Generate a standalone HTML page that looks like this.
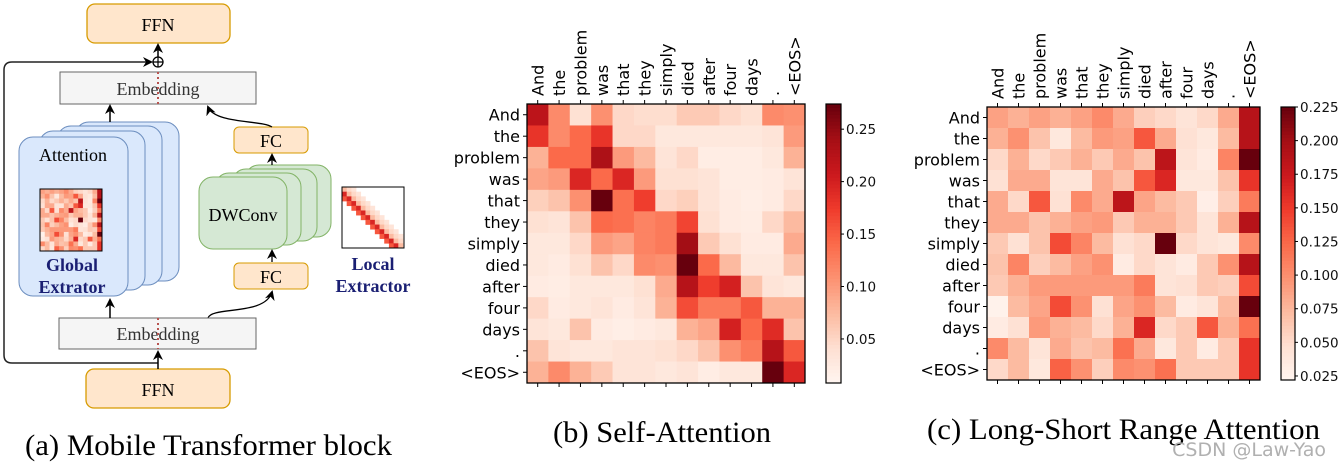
<!DOCTYPE html>
<html><head><meta charset="utf-8"><style>
html,body{margin:0;padding:0;background:#fff;}
svg{display:block;}
.serif{font-family:"Liberation Serif",serif;}
.dv{font-family:"DejaVu Sans","Liberation Sans",sans-serif;}
</style></head><body>
<svg id="root" width="1341" height="467" viewBox="0 0 1341 467" xmlns="http://www.w3.org/2000/svg">
<defs>
<marker id="arr" markerWidth="10" markerHeight="10" refX="8" refY="5" orient="auto" markerUnits="userSpaceOnUse">
<path d="M0,0 L10,5 L0,10 L3,5 Z" fill="#000"/></marker>
</defs>
<g id="panelA">
<path d="M158,363 L12,363 Q4,363 4,355 L4,70 Q4,62 12,62 L151,62" fill="none" stroke="#222" stroke-width="1.5" marker-end="url(#arr)"/>
<rect x="87" y="4" width="143" height="39" rx="8" fill="#ffe6cc" stroke="#d79b00" stroke-width="1.3"/>
<text x="158" y="31" text-anchor="middle" class="serif" font-size="18">FFN</text>
<circle cx="158" cy="62" r="5" fill="#fff" stroke="#000" stroke-width="1.3"/>
<path d="M153,62 H163 M158,57 V67" stroke="#000" stroke-width="1.2"/>
<line x1="158" y1="57" x2="158" y2="45" stroke="#000" stroke-width="1.5" marker-end="url(#arr)"/>
<rect x="60" y="72" width="196" height="32" fill="#f5f5f5" stroke="#666"/>
<text x="158" y="95" text-anchor="middle" class="serif" font-size="18" fill="#333">Embedding</text>
<line x1="158" y1="72" x2="158" y2="104" stroke="#b85450" stroke-width="2" stroke-dasharray="2,3"/>
<g>
<rect x="75" y="122" width="104" height="159" rx="14" fill="#dae8fc" stroke="#6c8ebf"/>
<rect x="57" y="126" width="105" height="159" rx="14" fill="#dae8fc" stroke="#6c8ebf"/>
<rect x="39" y="131" width="106" height="159" rx="14" fill="#dae8fc" stroke="#6c8ebf"/>
<rect x="19" y="137" width="109" height="159" rx="14" fill="#dae8fc" stroke="#6c8ebf"/>
</g>
<text x="73" y="161" text-anchor="middle" class="serif" font-size="18">Attention</text>
<g id="miniGlobal"></g>
<text x="72" y="271" text-anchor="middle" class="serif" font-size="18" font-weight="bold" fill="#1a1f73">Global</text>
<text x="72" y="293" text-anchor="middle" class="serif" font-size="18" font-weight="bold" fill="#1a1f73">Extrator</text>
<line x1="110" y1="122" x2="110" y2="106" stroke="#000" stroke-width="1.5" marker-end="url(#arr)"/>
<g>
<rect x="245" y="165" width="86" height="72" rx="14" fill="#d5e8d4" stroke="#82b366"/>
<rect x="232" y="169" width="85" height="72" rx="14" fill="#d5e8d4" stroke="#82b366"/>
<rect x="215" y="173" width="86" height="72" rx="14" fill="#d5e8d4" stroke="#82b366"/>
<rect x="199" y="177" width="88" height="72" rx="14" fill="#d5e8d4" stroke="#82b366"/>
</g>
<text x="243" y="221" text-anchor="middle" class="serif" font-size="18">DWConv</text>
<rect x="234" y="127" width="74" height="26" rx="5" fill="#ffe6cc" stroke="#d79b00"/>
<text x="271" y="147" text-anchor="middle" class="serif" font-size="18">FC</text>
<rect x="234" y="263" width="74" height="26" rx="5" fill="#ffe6cc" stroke="#d79b00"/>
<text x="271" y="283" text-anchor="middle" class="serif" font-size="18">FC</text>
<path d="M272,127 C262,120 215,124 208,107" fill="none" stroke="#000" stroke-width="1.3" marker-end="url(#arr)"/>
<line x1="272" y1="165" x2="272" y2="155" stroke="#000" stroke-width="1.3" marker-end="url(#arr)"/>
<line x1="272" y1="262" x2="272" y2="251" stroke="#000" stroke-width="1.3" marker-end="url(#arr)"/>
<path d="M208,318 C212,306 265,316 272,292" fill="none" stroke="#000" stroke-width="1.3" marker-end="url(#arr)"/>
<rect x="59" y="318" width="197" height="31" fill="#f5f5f5" stroke="#666"/>
<text x="158" y="340" text-anchor="middle" class="serif" font-size="18" fill="#333">Embedding</text>
<line x1="158" y1="318" x2="158" y2="349" stroke="#b85450" stroke-width="2" stroke-dasharray="2,3"/>
<line x1="110" y1="318" x2="110" y2="300" stroke="#000" stroke-width="1.5" marker-end="url(#arr)"/>
<rect x="86" y="369" width="144" height="39" rx="8" fill="#ffe6cc" stroke="#d79b00" stroke-width="1.3"/>
<text x="158" y="396" text-anchor="middle" class="serif" font-size="18">FFN</text>
<line x1="158" y1="369" x2="158" y2="352" stroke="#000" stroke-width="1.5" marker-end="url(#arr)"/>
<g id="miniLocal"></g>
<rect x="342" y="187" width="62" height="61" fill="none" stroke="#000" stroke-width="1"/>
<text x="373" y="270" text-anchor="middle" class="serif" font-size="18" font-weight="bold" fill="#1a1f73">Local</text>
<text x="373" y="292" text-anchor="middle" class="serif" font-size="18" font-weight="bold" fill="#1a1f73">Extractor</text>
<text x="25" y="455" textLength="367" lengthAdjust="spacingAndGlyphs" class="serif" font-size="30">(a) Mobile Transformer block</text>
</g>
<g id="panelB"></g>
<g id="panelC"></g>
<text x="553" y="442" textLength="218" lengthAdjust="spacingAndGlyphs" class="serif" font-size="30">(b) Self-Attention</text>
<text x="927" y="439" textLength="393" lengthAdjust="spacingAndGlyphs" class="serif" font-size="30">(c) Long-Short Range Attention</text>
<text x="1326" y="456" text-anchor="end" class="dv" font-size="19" fill="#b0b0b0">CSDN @Law-Yao</text>
</svg>
<script>
const tokens = ["And","the","problem","was","that","they","simply","died","after","four","days",".","<EOS>"];
const weightsB = [
[.221,.114,.040,.109,.048,.043,.043,.061,.061,.048,.040,.114,.109],
[.181,.114,.141,.181,.048,.048,.029,.029,.029,.029,.029,.035,.101],
[.082,.141,.141,.234,.101,.075,.035,.048,.021,.021,.021,.029,.082],
[.093,.101,.194,.141,.194,.101,.040,.040,.035,.021,.021,.024,.035],
[.056,.067,.109,.274,.136,.173,.048,.056,.035,.024,.019,.024,.048],
[.040,.035,.067,.141,.136,.120,.128,.168,.040,.024,.021,.048,.075],
[.029,.029,.048,.101,.093,.120,.128,.242,.061,.040,.024,.024,.088],
[.029,.024,.040,.067,.048,.114,.109,.274,.141,.075,.029,.029,.067],
[.024,.021,.029,.029,.029,.040,.088,.226,.173,.200,.067,.035,.029],
[.048,.024,.029,.035,.024,.035,.082,.162,.128,.128,.154,.082,.082],
[.035,.029,.067,.024,.019,.024,.029,.082,.093,.200,.141,.189,.067],
[.067,.035,.029,.029,.035,.035,.040,.048,.067,.109,.128,.226,.154],
[.082,.114,.082,.061,.035,.035,.029,.035,.021,.029,.029,.274,.194]];
const weightsC = [
[.089,.079,.089,.079,.089,.103,.083,.059,.052,.042,.052,.083,.188],
[.079,.099,.067,.038,.073,.093,.089,.134,.083,.046,.038,.073,.188],
[.052,.079,.052,.063,.079,.063,.083,.067,.184,.042,.034,.107,.225],
[.046,.083,.083,.042,.042,.083,.067,.134,.164,.038,.038,.067,.154],
[.083,.052,.134,.046,.103,.083,.184,.087,.073,.063,.030,.059,.113],
[.083,.083,.067,.079,.089,.093,.063,.079,.079,.063,.042,.079,.188],
[.063,.046,.067,.140,.107,.073,.046,.052,.225,.052,.042,.038,.103],
[.067,.107,.059,.073,.089,.099,.034,.052,.042,.034,.063,.099,.188],
[.063,.079,.093,.093,.093,.093,.093,.113,.042,.046,.063,.059,.140],
[.026,.073,.087,.140,.099,.046,.087,.099,.073,.034,.042,.073,.225],
[.034,.046,.093,.079,.073,.052,.079,.164,.052,.063,.134,.079,.119],
[.103,.073,.042,.083,.067,.073,.119,.083,.038,.063,.034,.063,.154],
[.052,.073,.038,.128,.099,.059,.103,.099,.119,.063,.063,.063,.154]];
const ticksB = ["0.05","0.10","0.15","0.20","0.25"];
const ticksC = ["0.025","0.050","0.075","0.100","0.125","0.150","0.175","0.200","0.225"];
const rangeB = [0.008, 0.274];
const rangeC = [0.022, 0.225];

const NS = "http://www.w3.org/2000/svg";
const stops = ["#fff5f0","#fee0d2","#fcbba1","#fc9272","#fb6a4a","#ef3b2c","#cb181d","#a50f15","#67000d"];
function hex(h){return [1,3,5].map(i=>parseInt(h.substr(i,2),16));}
function reds(t){t=Math.max(0,Math.min(1,t));const p=t*8,i=Math.min(7,Math.floor(p)),f=p-i;const a=hex(stops[i]),b=hex(stops[i+1]);return "rgb("+a.map((v,k)=>Math.round(v+(b[k]-v)*f)).join(",")+")";}
function mk(tag,attrs,parent){const e=document.createElementNS(NS,tag);for(const k in attrs)e.setAttribute(k,attrs[k]);parent.appendChild(e);return e;}

function heatmap(gid,data,range,ticks,box,cb){
  const g=document.getElementById(gid);
  const n=tokens.length, cw=(box.r-box.l)/n, ch=(box.b-box.t)/n;
  const xs=i=>box.l+i*cw, ys=j=>box.t+j*ch;
  const norm=v=>(v-range[0])/(range[1]-range[0]);
  data.forEach((row,j)=>row.forEach((v,i)=>{
    const c=mk("rect",{x:xs(i),y:ys(j),width:cw+0.5,height:ch+0.5,fill:reds(norm(v))},g);
    
    
  }));
  mk("rect",{x:box.l,y:box.t,width:box.r-box.l,height:box.b-box.t,fill:"none",stroke:"#000","stroke-width":1.3},g);
  tokens.forEach((tk,i)=>{
    const cx=xs(i)+cw/2, cy=ys(i)+ch/2;
    mk("line",{x1:cx,y1:box.t,x2:cx,y2:box.t-4,stroke:"#000"},g);
    mk("line",{x1:cx,y1:box.b,x2:cx,y2:box.b+4,stroke:"#000"},g);
    mk("line",{x1:box.l,y1:cy,x2:box.l-4,y2:cy,stroke:"#000"},g);
    const xl=mk("text",{x:0,y:0,transform:"translate("+(cx+6)+","+(box.t-8)+") rotate(-90)","font-size":16,class:"dv"},g);
    xl.textContent=tk;
    
    
    const yl=mk("text",{x:box.l-7,y:cy+6,"text-anchor":"end","font-size":16,class:"dv"},g);
    yl.textContent=tk;
    
    
  });
  const cbg=mk("g",{},g);
  
  
  const steps=80,h=(cb.b-cb.t)/steps;
  for(let s=0;s<steps;s++) mk("rect",{x:cb.l,y:cb.b-(s+1)*h,width:cb.r-cb.l,height:h+0.5,fill:reds((s+0.5)/steps)},cbg);
  mk("rect",{x:cb.l,y:cb.t,width:cb.r-cb.l,height:cb.b-cb.t,fill:"none",stroke:"#000","stroke-width":1.2},cbg);
  ticks.forEach(tl=>{
    const y=cb.b-norm(parseFloat(tl))*(cb.b-cb.t);
    mk("line",{x1:cb.r,y1:y,x2:cb.r+3,y2:y,stroke:"#000"},cbg);
    const t=mk("text",{x:cb.r+5,y:y+5,"font-size":13.5,class:"dv",fill:"#111"},cbg);
    t.textContent=tl;
    
    
  });
}
heatmap("panelB",weightsB,rangeB,ticksB,{l:527,r:805,t:104,b:383},{l:826,r:841,t:104,b:383});
heatmap("panelC",weightsC,rangeC,ticksC,{l:987,r:1260,t:107,b:380},{l:1281,r:1295,t:107,b:380});

(function(){
  const g=document.getElementById("miniGlobal");
  const n=13,s=62/n;
  weightsC.forEach((row,j)=>row.forEach((v,i)=>{
    const r=mk("rect",{x:40+i*s,y:189+j*s,width:s+0.3,height:s+0.3,fill:reds((v-rangeC[0])/(rangeC[1]-rangeC[0]))},g);
    
    
  }));
  mk("rect",{x:40,y:189,width:62,height:62,fill:"none",stroke:"#000"},g);
  const L=document.getElementById("miniLocal");
  const m=13,q=61/m;
  for(let j=0;j<m;j++)for(let d=-2;d<=2;d++){const i=j+d;if(i<0||i>=m)continue;
    const t=[0.55,0.7,0.25,0.15,0.1][d+2];
    mk("rect",{x:342+i*q,y:187+j*q,width:q+0.3,height:q+0.3,fill:reds(t)},L);}
})();
</script>
</body></html>
